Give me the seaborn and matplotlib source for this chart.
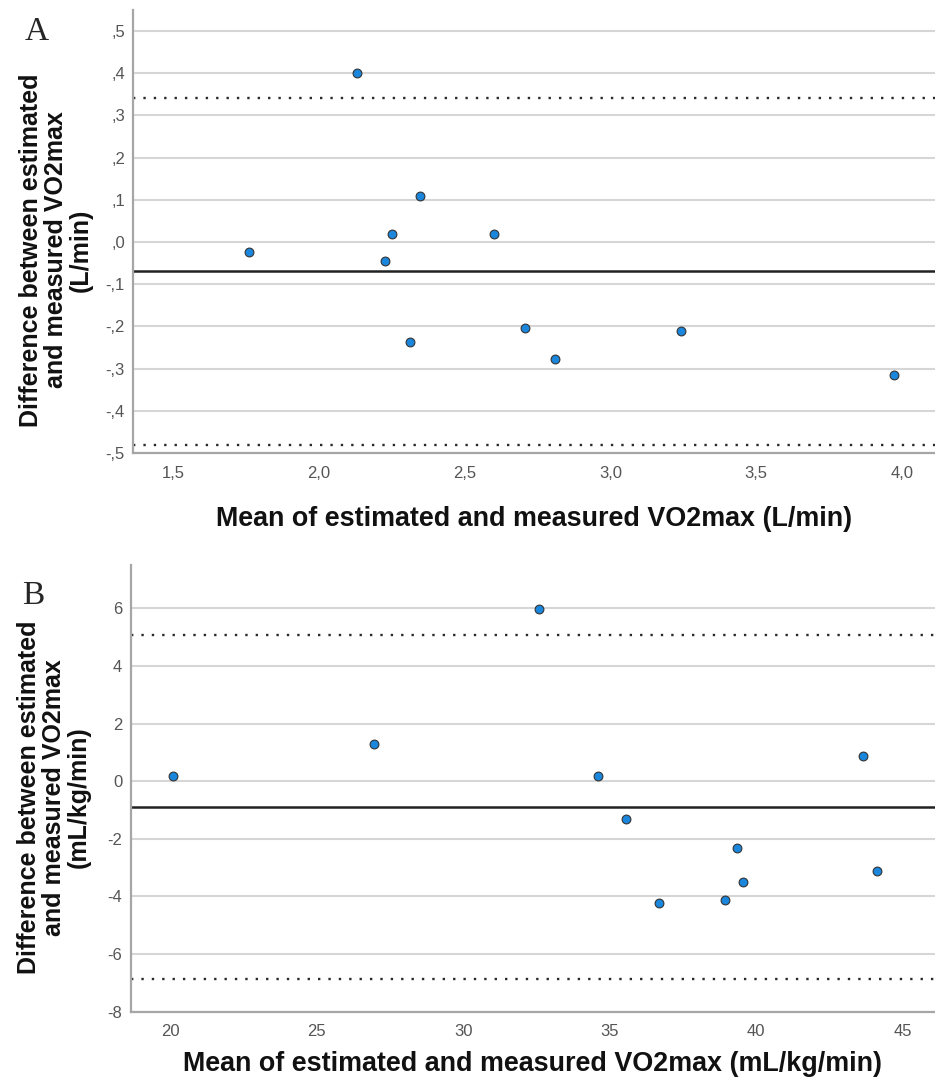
import matplotlib
matplotlib.use("Agg")
import matplotlib.pyplot as plt
import seaborn as sns
import pandas as pd

# ---------------- data ----------------
mean_a = [1.759, 2.130, 2.227, 2.250, 2.313, 2.345, 2.599, 2.708, 2.811, 3.243, 3.972]
diff_a = [-0.024, 0.400, -0.046, 0.018, -0.236, 0.110, 0.018, -0.203, -0.277, -0.211, -0.314]
bias_a = -0.069
upper_a = 0.341
lower_a = -0.481
xticks_a = [1.5, 2.0, 2.5, 3.0, 3.5, 4.0]
xticklabels_a = ["1,5", "2,0", "2,5", "3,0", "3,5", "4,0"]
yticks_a = [0.5, 0.4, 0.3, 0.2, 0.1, 0.0, -0.1, -0.2, -0.3, -0.4, -0.5]
yticklabels_a = [",5", ",4", ",3", ",2", ",1", ",0", "-,1", "-,2", "-,3", "-,4", "-,5"]

mean_b = [20.10, 26.95, 32.59, 34.59, 35.55, 36.69, 38.95, 39.33, 39.54, 43.63, 44.13]
diff_b = [0.19, 1.29, 5.98, 0.19, -1.31, -4.22, -4.12, -2.31, -3.51, 0.885, -3.11]
bias_b = -0.91
upper_b = 5.07
lower_b = -6.88
xticks_b = [20, 25, 30, 35, 40, 45]
xticklabels_b = ["20", "25", "30", "35", "40", "45"]
yticks_b = [6, 4, 2, 0, -2, -4, -6, -8]
yticklabels_b = ["6", "4", "2", "0", "-2", "-4", "-6", "-8"]

xlabel_a = "Mean of estimated and measured VO2max (L/min)"
ylabel_a = "Difference between estimated\nand measured VO2max\n(L/min)"
xlabel_b = "Mean of estimated and measured VO2max (mL/kg/min)"
ylabel_b = "Difference between estimated\nand measured VO2max\n(mL/kg/min)"

# ---------------- style ----------------
sns.set_style("white")
plt.rcParams["font.family"] = ["Liberation Sans", "DejaVu Sans"]

W, H = 935, 1086
fig = plt.figure(figsize=(W / 100, H / 100), dpi=100)

def px_axes(left, top, right, bottom):
    return fig.add_axes([left / W, 1 - bottom / H, (right - left) / W, (bottom - top) / H])

ax_a = px_axes(133.3, 10, 935, 453)
ax_b = px_axes(130.7, 565, 935, 1011.7)

tick_font = ["Liberation Sans Narrow", "Liberation Sans", "DejaVu Sans"]
point_color = "#1a86dc"

def draw(ax, xs, ys, bias, up, lo, xlim, ylim, xt, xtl, yt, ytl, xl, yl,
         ylab_y, letter, letter_y, xlabpad):
    df = pd.DataFrame({"x": xs, "y": ys})
    for v in yt:
        ax.axhline(v, color="#d6d6d6", lw=1.5, zorder=0)
    ax.axhline(bias, color="#222222", lw=1.8, zorder=2)
    ax.axhline(up, color="#2a2a2a", lw=1.7, ls=(0, (1, 3.4)), zorder=2)
    ax.axhline(lo, color="#2a2a2a", lw=1.7, ls=(0, (1, 3.4)), zorder=2)
    sns.scatterplot(data=df, x="x", y="y", ax=ax, s=40, color=point_color,
                    edgecolor="#333333", linewidth=0.8, zorder=3, legend=False)
    ax.set_xlim(*xlim)
    ax.set_ylim(*ylim)
    ax.set_xticks(xt)
    ax.set_xticklabels(xtl, family=tick_font, fontsize=12, color="#555555")
    ax.set_yticks(yt)
    ax.set_yticklabels(ytl, family=tick_font, fontsize=12, color="#555555")
    ax.tick_params(axis="both", length=0)
    ax.tick_params(axis="x", pad=9)
    ax.tick_params(axis="y", pad=6)
    for s in ["top", "right"]:
        ax.spines[s].set_visible(False)
    for s in ["left", "bottom"]:
        ax.spines[s].set_color("#a6a6a6")
        ax.spines[s].set_linewidth(1.6)
    ax.set_xlabel(xl, fontsize=19.4, fontweight="bold", color="#111111", labelpad=xlabpad)
    ax.set_ylabel(yl, fontsize=18, fontweight="bold", color="#111111", linespacing=1.05)
    ax.yaxis.set_label_coords(-0.05, ylab_y)
    ax.text(-0.135, letter_y, letter, transform=ax.transAxes, fontsize=24,
            family=["Liberation Serif", "DejaVu Serif"], va="top", ha="left")

draw(ax_a, mean_a, diff_a, bias_a, upper_a, lower_a, (1.362, 4.114), (-0.5, 0.55),
     xticks_a, xticklabels_a, yticks_a, yticklabels_a, xlabel_a, ylabel_a,
     0.458, "A", 0.985, 18.5)
draw(ax_b, mean_b, diff_b, bias_b, upper_b, lower_b, (18.66, 46.1), (-8, 7.5),
     xticks_b, xticklabels_b, yticks_b, yticklabels_b, xlabel_b, ylabel_b,
     0.48, "B", 0.965, 8.5)

fig.savefig("out.png", dpi=100, facecolor="white")
